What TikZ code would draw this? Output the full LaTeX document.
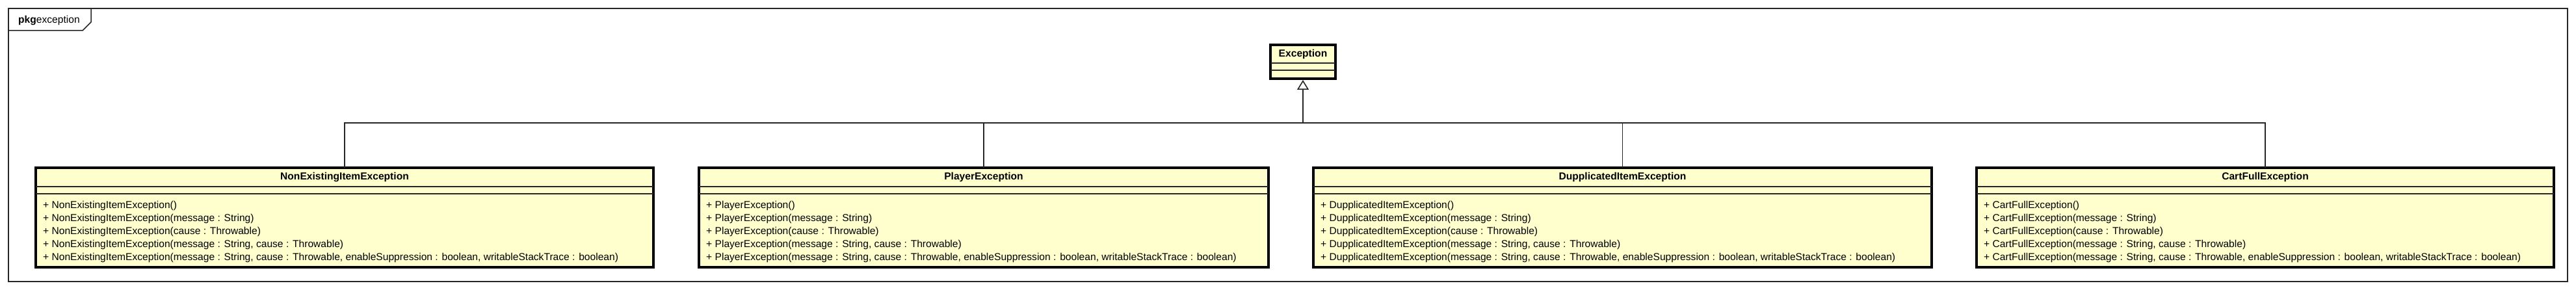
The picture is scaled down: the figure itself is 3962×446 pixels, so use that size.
\documentclass[tikz,border=0pt]{standalone}
\usepackage{fontspec}
\setmainfont{Liberation Sans}
\usetikzlibrary{arrows.meta}
\definecolor{umlfill}{RGB}{255,255,206}
\tikzset{
  classbox/.style={draw=black, line width=4pt, fill=umlfill, inner sep=0pt, outer sep=0pt, anchor=north west},
  divider/.style={line width=1.6pt, draw=black!85},
  ctitle/.style={font=\fontsize{15.6}{18}\selectfont\bfseries, inner sep=0pt, anchor=base},
  method/.style={font=\fontsize{15.6}{18}\selectfont, inner sep=0pt, anchor=base west},
  conn/.style={line width=1.6pt, draw=black!85},
  genarrow/.style={-{Triangle[open, length=15pt, width=18pt, fill=white, line width=1.6pt]}},
  pkgframe/.style={line width=1.5pt, draw=black!85},
  pkglabel/.style={font=\fontsize{15.6}{18}\selectfont, inner sep=0pt, anchor=base west},
}
\newcommand{\umlclass}[4]{%
  \pgfmathsetmacro\boxw{#3-#2}%
  \node[classbox, minimum width=\boxw pt, minimum height=153pt] (#1) at (#2,258) {};
  \draw[divider] ([yshift=-29pt]#1.north west) -- ([yshift=-29pt]#1.north east);
  \draw[divider] ([yshift=-40pt]#1.north west) -- ([yshift=-40pt]#1.north east);
  \node[ctitle] (#1-t) at ([yshift=-19pt]#1.north) {#4};
  \node[method] (#1-m1) at ([xshift=11pt,yshift=-62.5pt]#1.north west) {+ #4()};
  \node[method] (#1-m2) at ([xshift=11pt,yshift=-82.5pt]#1.north west) {+ #4(message : String)};
  \node[method] (#1-m3) at ([xshift=11pt,yshift=-102.5pt]#1.north west) {+ #4(cause : Throwable)};
  \node[method] (#1-m4) at ([xshift=11pt,yshift=-122.5pt]#1.north west) {+ #4(message : String, cause : Throwable)};
  \node[method] (#1-m5) at ([xshift=11pt,yshift=-142.5pt]#1.north west) {+ #4(message : String, cause : Throwable, enableSuppression : boolean, writableStackTrace : boolean)};
}
\begin{document}
\begin{tikzpicture}[x=1pt, y=-1pt]
  \useasboundingbox (0,0) rectangle (3962,446);
  % package frame
  \draw[pkgframe] (13,13) rectangle (3949,433);
  \draw[pkgframe] (13,47) -- (127,47) -- (140,34) -- (140,13);
  \node[pkglabel] (pkg) at (28,36) {\textbf{pkg}exception};
  % Exception class
  \node[classbox, minimum width=100pt, minimum height=52pt] (exc) at (1954,69) {};
  \draw[divider] ([yshift=-28pt]exc.north west) -- ([yshift=-28pt]exc.north east);
  \draw[divider] ([yshift=-39pt]exc.north west) -- ([yshift=-39pt]exc.north east);
  \node[ctitle] (exc-t) at ([yshift=-19pt]exc.north) {Exception};
  % subclasses
  \umlclass{ne}{55}{1005}{NonExistingItemException}
  \umlclass{pl}{1075}{1951}{PlayerException}
  \umlclass{du}{2020}{2971}{DupplicatedItemException}
  \umlclass{cf}{3040}{3928}{CartFullException}
  % generalization connectors
  \coordinate (bus) at ([yshift=-68pt]exc.south);
  \coordinate (tip) at ([yshift=-2pt]exc.south);
  \foreach \c in {ne,pl,du,cf} {
    \draw[conn] (\c.north) |- (bus);
  }
  \draw[conn, genarrow] (bus) -- (tip);
\end{tikzpicture}
\end{document}
